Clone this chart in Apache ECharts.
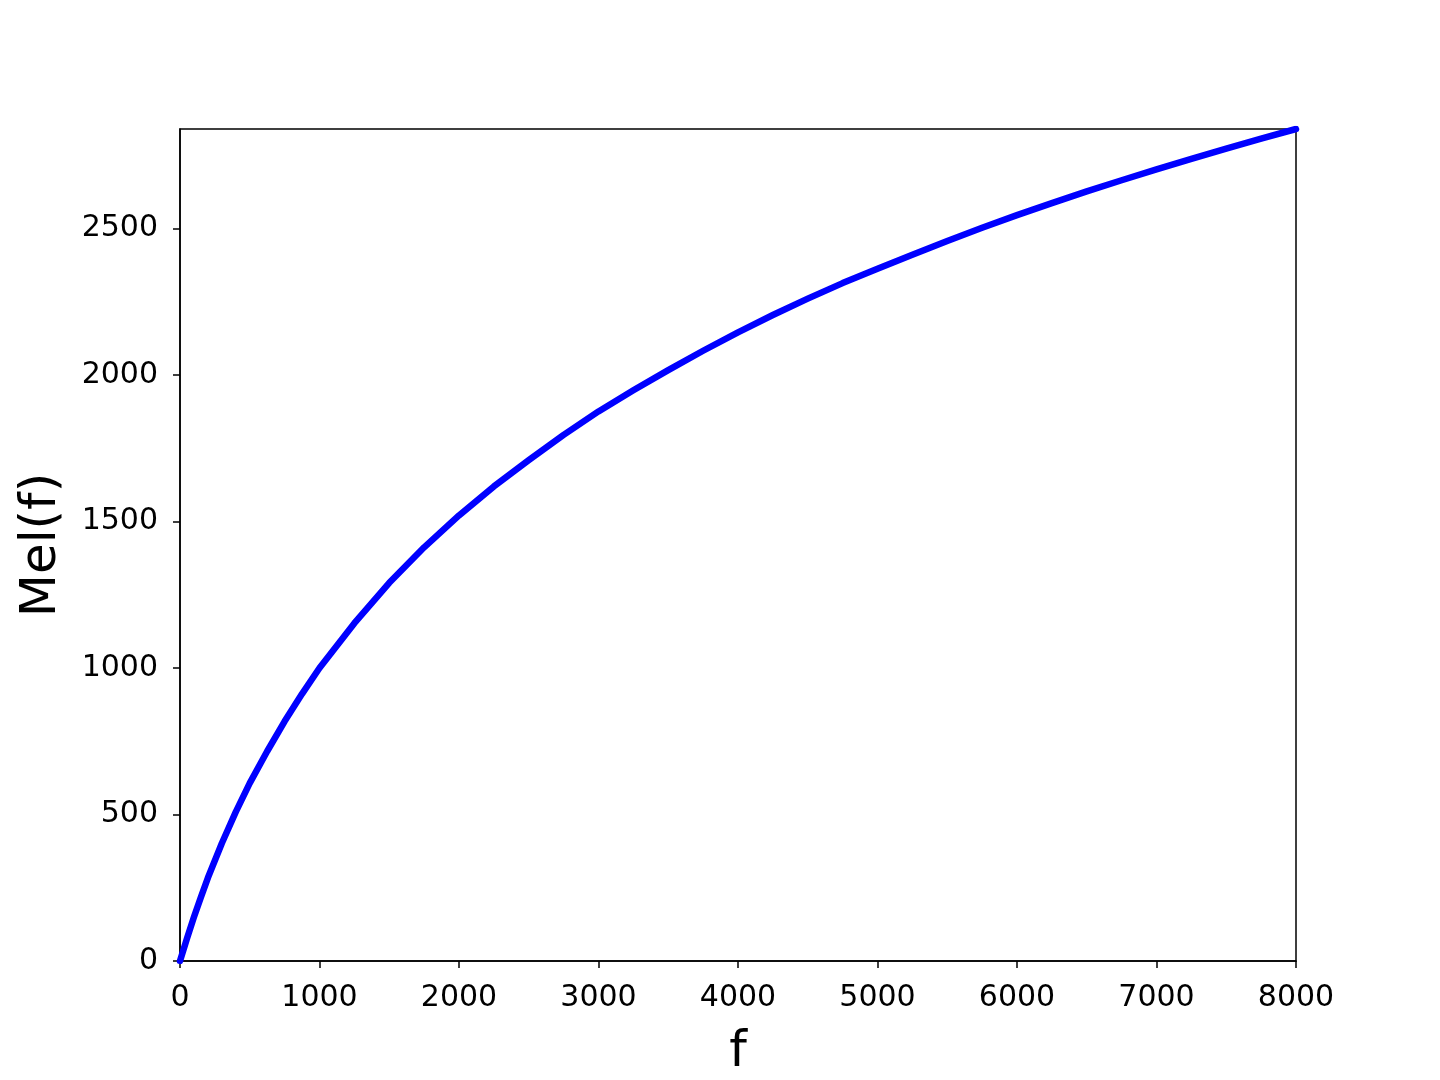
<!DOCTYPE html>
<html><head><meta charset="utf-8">
<script src="https://cdn.jsdelivr.net/npm/echarts@6/dist/echarts.min.js"></script>
<style>html,body{margin:0;padding:0;background:#fff}#c{width:1440px;height:1080px}</style>
</head><body><div id="c"></div>
<script>
const freqs = [0, 50, 100, 150, 200, 300, 400, 500, 625, 750, 875, 1000, 1250, 1500, 1750, 2000, 2250, 2500, 2750, 3000, 3250, 3500, 3750, 4000, 4250, 4500, 4750, 5000, 5250, 5500, 5750, 6000, 6250, 6500, 6750, 7000, 7250, 7500, 7750, 8000];
const mels  = [0, 77, 150, 218, 284, 402, 509, 607, 716, 818, 912, 1000, 1153, 1291, 1412, 1521, 1620, 1710, 1796, 1876, 1948, 2017, 2083, 2146, 2205, 2261, 2314, 2363, 2411, 2458, 2503, 2546, 2587, 2627, 2665, 2702, 2738, 2773, 2807, 2840];
const xTicks = [0,1000,2000,3000,4000,5000,6000,7000,8000];
const yTicks = [0,500,1000,1500,2000,2500];
const font = 'DejaVu Sans';
const chart = echarts.init(document.getElementById('c'));
chart.setOption({
  animation:false,
  grid:{left:180,right:144,top:129,bottom:119,containLabel:false,outerBoundsMode:'none',
    show:true,borderColor:'#000',borderWidth:1.5,backgroundColor:'transparent'},
  xAxis:{type:'value',min:0,max:8000,interval:1000,name:'f',nameLocation:'middle',nameGap:67,nameMoveOverlap:false,
    nameTextStyle:{fontFamily:font,fontSize:50,color:'#000'},
    axisLine:{show:true,lineStyle:{color:'#000',width:1.5}},
    axisTick:{show:true,length:7,lineStyle:{color:'#000',width:1.5}},
    axisLabel:{fontFamily:font,fontSize:30,color:'#000',margin:22,
      formatter:v=>xTicks.includes(v)?String(v):''},
    splitLine:{show:false}},
  yAxis:{type:'value',min:0,max:2840,interval:500,name:'Mel(f)',nameLocation:'middle',nameGap:113,nameMoveOverlap:false,
    nameTextStyle:{fontFamily:font,fontSize:50,color:'#000'},
    axisLine:{show:true,lineStyle:{color:'#000',width:1.5}},
    axisTick:{show:true,length:7,lineStyle:{color:'#000',width:1.5}},
    axisLabel:{fontFamily:font,fontSize:30,color:'#000',margin:22,showMaxLabel:false,
      formatter:v=>yTicks.includes(v)?String(v):''},
    splitLine:{show:false}},
  series:[{type:'line',data:freqs.map((f,i)=>[f,mels[i]]),smooth:false,showSymbol:false,
    lineStyle:{color:'#0000ff',width:6.5,join:'round',cap:'round'},clip:true}]
});
</script></body></html>
